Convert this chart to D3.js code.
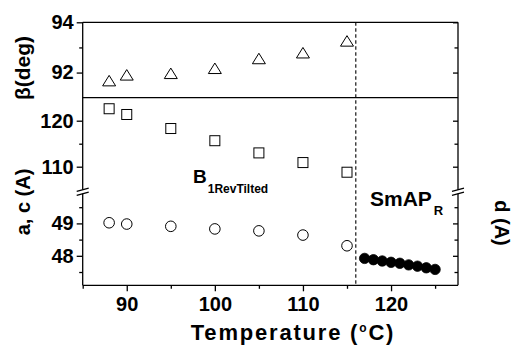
<!DOCTYPE html>
<html>
<head>
<meta charset="utf-8">
<script src="https://cdn.jsdelivr.net/npm/d3@7/dist/d3.min.js"></script>
<style>
  html, body { margin: 0; padding: 0; background: #fff; }
  svg { display: block; }
  text { font-family: "Liberation Sans", Arial, Helvetica, sans-serif; font-weight: bold; fill: #000; }
</style>
</head>
<body>
<script>
// ---- data ----
const tempsB = [88, 90, 95, 100, 105, 110, 115];
const betaDeg = [91.67, 91.9, 91.96, 92.16, 92.55, 92.78, 93.25];
const cParam = [122.6, 121.35, 118.3, 115.65, 113.0, 110.9, 108.8];
const aParam = [49.02, 48.98, 48.91, 48.83, 48.77, 48.64, 48.31];
const tempsS = [117, 118, 119, 120, 121, 122, 123, 124, 125];
const dSpacing = [47.92, 47.88, 47.84, 47.80, 47.77, 47.72, 47.68, 47.63, 47.58];
const xMajor = [90, 100, 110, 120];
const xMinor = [85, 95, 105, 115, 125];
const betaMajor = [92, 94];
const betaMinor = [93];
const midMajor = [110, 120];
const midMinor = [115];
const lowMajor = [48, 49];
const lowMinor = [47.5, 48.5, 49.5];
const transitionT = 116;

const W = 512, H = 354;
const L = 82.7, R = 458, T = 22.3, B = 285.3, DIV = 97.7;

const svg = d3.select("body").append("svg").attr("width", W).attr("height", H);

const x = d3.scaleLinear().domain([85, 127.6]).range([L, R]);
const yTop = d3.scaleLinear().domain([91, 94]).range([DIV, T]);
const yMid = d3.scaleLinear().domain([105, 125]).range([189.7, DIV]);
const yLow = d3.scaleLinear().domain([47.09, 50]).range([B, 191]);

const sw = 1.3;

function styleAxis(g, fs) {
  g.select(".domain").remove();
  g.selectAll(".tick line").attr("stroke", "#000").attr("stroke-width", sw);
  g.selectAll(".tick text").style("font-size", fs + "px").attr("fill", "#000")
    .style("font-family", "'Liberation Sans', Arial, sans-serif").style("font-weight", "bold");
}

// left axes + mirrored right ticks
[[yTop, betaMajor, betaMinor], [yMid, midMajor, midMinor], [yLow, lowMajor, lowMinor]].forEach(([sc, maj, min]) => {
  svg.append("g").attr("transform", `translate(${L},0)`)
    .call(d3.axisLeft(sc).tickValues(maj).tickSize(6).tickPadding(3).tickFormat(d3.format("d")))
    .call(g => styleAxis(g, 20));
  svg.append("g").attr("transform", `translate(${L},0)`)
    .call(d3.axisLeft(sc).tickValues(min).tickSize(3.5).tickFormat(""))
    .call(g => styleAxis(g, 20));
  svg.append("g").attr("transform", `translate(${R},0)`)
    .call(d3.axisRight(sc).tickValues(maj).tickSize(-5).tickFormat(""))
    .call(g => styleAxis(g, 20));
  svg.append("g").attr("transform", `translate(${R},0)`)
    .call(d3.axisRight(sc).tickValues(min).tickSize(-3.5).tickFormat(""))
    .call(g => styleAxis(g, 20));
});

// bottom axis
svg.append("g").attr("transform", `translate(0,${B})`)
  .call(d3.axisBottom(x).tickValues(xMajor).tickSize(6).tickPadding(6).tickFormat(d3.format("d")))
  .call(g => styleAxis(g, 20));
svg.append("g").attr("transform", `translate(0,${B})`)
  .call(d3.axisBottom(x).tickValues(xMinor).tickSize(3.5).tickFormat(""))
  .call(g => styleAxis(g, 20));

// frame
const frame = svg.append("g").attr("stroke", "#000").attr("stroke-width", sw).attr("fill", "none");
frame.append("line").attr("x1", L).attr("x2", R).attr("y1", T).attr("y2", T);
frame.append("line").attr("x1", L).attr("x2", R).attr("y1", B).attr("y2", B);
frame.append("line").attr("x1", L).attr("x2", R).attr("y1", DIV).attr("y2", DIV);
frame.append("line").attr("x1", L).attr("x2", L).attr("y1", T).attr("y2", B);
frame.append("line").attr("x1", R).attr("x2", R).attr("y1", T).attr("y2", B);

// transition dashed line
svg.append("line").attr("x1", x(transitionT)).attr("x2", x(transitionT)).attr("y1", T).attr("y2", B)
  .attr("stroke", "#000").attr("stroke-width", 1.1).attr("stroke-dasharray", "3.5,2.5");

// axis breaks
[L, R].forEach(ax => {
  const y1 = 189.7, y2 = 193.7, hw = 6, sl = 1.6;
  svg.append("path")
    .attr("d", `M${ax - hw},${y1 + sl}L${ax + hw},${y1 - sl}L${ax + hw},${y2 - sl}L${ax - hw},${y2 + sl}Z`)
    .attr("fill", "#fff");
  [y1, y2].forEach(yy => {
    svg.append("line").attr("x1", ax - hw).attr("y1", yy + sl).attr("x2", ax + hw).attr("y2", yy - sl)
      .attr("stroke", "#000").attr("stroke-width", 1.2);
  });
});

// markers
const triPath = "M0,-5.5L6.5,5L-6.5,5Z";
svg.append("g").selectAll("path").data(tempsB).join("path")
  .attr("d", triPath)
  .attr("transform", (d, i) => `translate(${x(d)},${yTop(betaDeg[i])})`)
  .attr("fill", "none").attr("stroke", "#000").attr("stroke-width", 1);

svg.append("g").selectAll("rect").data(tempsB).join("rect")
  .attr("x", d => x(d) - 5).attr("y", (d, i) => yMid(cParam[i]) - 5)
  .attr("width", 10).attr("height", 10)
  .attr("fill", "none").attr("stroke", "#000").attr("stroke-width", 1);

svg.append("g").selectAll("circle").data(tempsB).join("circle")
  .attr("cx", d => x(d)).attr("cy", (d, i) => yLow(aParam[i])).attr("r", 5.3)
  .attr("fill", "none").attr("stroke", "#000").attr("stroke-width", 1);

svg.append("g").selectAll("circle").data(tempsS).join("circle")
  .attr("cx", d => x(d)).attr("cy", (d, i) => yLow(dSpacing[i])).attr("r", 5.2)
  .attr("fill", "#000").attr("stroke", "#000").attr("stroke-width", 0.8);

// phase labels
const bt = svg.append("text").attr("x", 193).attr("y", 183);
bt.append("tspan").text("B").style("font-size", "19px");
bt.append("tspan").attr("dx", 1).attr("dy", 10).text("1RevTilted").style("font-size", "12px");

const st = svg.append("text").attr("x", 370).attr("y", 206);
st.append("tspan").text("SmAP").style("font-size", "21px");
st.append("tspan").attr("dx", 2).attr("dy", 9).text("R").style("font-size", "13px");

// axis titles
svg.append("text").attr("transform", "translate(30,68) rotate(-90)").attr("text-anchor", "middle")
  .style("font-size", "21px").text("β(deg)");
svg.append("text").attr("transform", "translate(30,202) rotate(-90)").attr("text-anchor", "middle")
  .style("font-size", "20px").text("a, c (A)");
svg.append("text").attr("transform", "translate(495,223) rotate(90)").attr("text-anchor", "middle")
  .style("font-size", "20px").text("d  (A)");

const xt = svg.append("text").attr("x", 293).attr("y", 340).attr("text-anchor", "middle")
  .style("font-size", "22px").style("letter-spacing", "1.8px");
xt.append("tspan").text("Temperature (");
xt.append("tspan").attr("dy", -8).style("font-size", "12px").text("o");
xt.append("tspan").attr("dy", 8).text("C)");
</script>
</body>
</html>
